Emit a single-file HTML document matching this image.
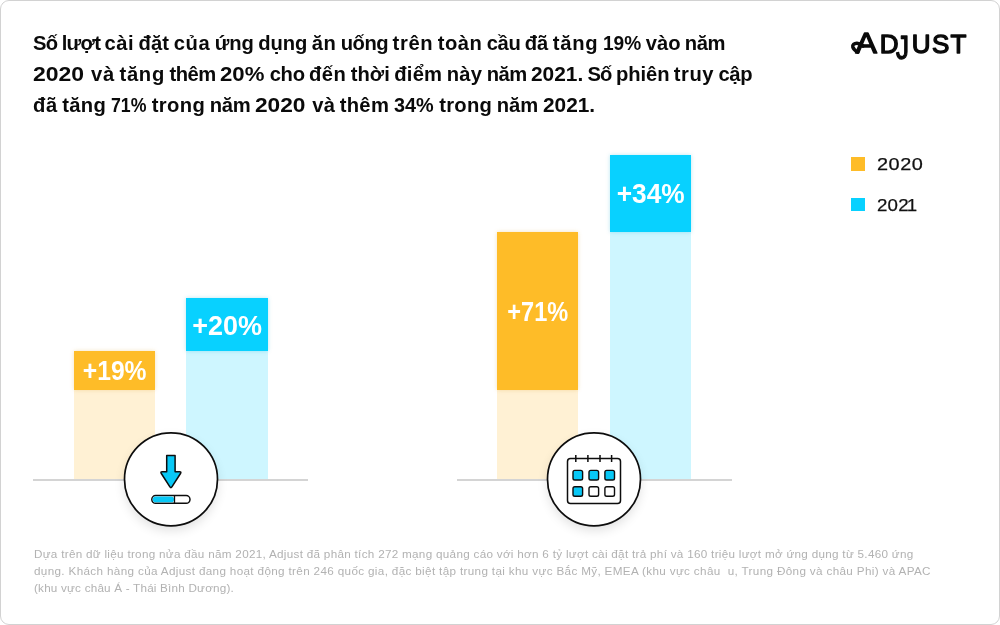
<!DOCTYPE html>
<html lang="vi">
<head>
<meta charset="utf-8">
<title>Adjust</title>
<style>
*{margin:0;padding:0;box-sizing:border-box}
html,body{width:1000px;height:625px;background:#fff;overflow:hidden}
body{font-family:"Liberation Sans",sans-serif;position:relative;color:#0a0a0a}
.frame{position:absolute;left:0;top:0;width:1000px;height:625px;border:1px solid #d2d2d2;border-radius:9px;background:#fff}
.title{position:absolute;left:33px;top:28.4px;font-size:20.2px;line-height:30.8px;font-weight:bold;color:#0a0a0a;white-space:nowrap}
.title span,.foot span{display:block}
.title i{font-style:normal}
.title span{word-spacing:-1.2px}
.n{display:inline-block;font-weight:bold;transform-origin:0 50%;letter-spacing:0}
.bar{position:absolute}
.so{background:#febc28;box-shadow:0 0 4px rgba(220,160,40,.3)}
.sb{background:#08d1ff;box-shadow:0 0 4px rgba(8,170,210,.28)}
.lo{background:#fff1d4}
.lb{background:#cef6ff}
.lbl{position:absolute;color:#fff;font-weight:bold;font-size:27.4px;line-height:30px;text-align:center;white-space:nowrap}
.axis{position:absolute;height:2px;background:#d4d4d4}
.icon{position:absolute;width:130px;height:130px;overflow:visible}
.legend{position:absolute;font-size:17px;line-height:20px;color:#111;letter-spacing:.45px;white-space:nowrap;transform:scaleX(1.17);transform-origin:0 0;-webkit-text-stroke:.25px #111}
.sw{position:absolute;width:13.6px;height:13.4px}
.foot{position:absolute;left:34px;top:546.4px;font-size:11.7px;line-height:16.65px;color:#b2b2b2;white-space:nowrap}
.f1{letter-spacing:.293px}.f2{letter-spacing:.342px}.f3{letter-spacing:.21px}
.logo{position:absolute;left:840px;top:20px;width:140px;height:50px;overflow:visible}
</style>
</head>
<body>
<div class="frame"></div>
<div class="title"><span class="t1"><i style="letter-spacing:-0.75px">Số</i> <i style="letter-spacing:-0.71px">lượt</i> <i style="letter-spacing:0.50px">cài</i> <i style="letter-spacing:0.10px">đặt</i> <i style="letter-spacing:0.60px">của</i> <i style="letter-spacing:-0.03px">ứng</i> <i style="letter-spacing:-0.08px">dụng</i> <i style="letter-spacing:0.51px">ăn</i> <i style="letter-spacing:-0.48px">uống</i> <i style="letter-spacing:0.66px">trên</i> <i style="letter-spacing:0.49px">toàn</i> <i style="letter-spacing:-0.40px">cầu</i> <i style="letter-spacing:0.01px">đã</i> <i style="letter-spacing:0.75px">tăng</i> <b class="n" style="width:38.2px;transform:scaleX(0.946);margin-left:0.4px">19%</b> <i style="letter-spacing:-0.07px">vào</i> <i style="letter-spacing:-0.47px">năm</i></span><span class="t2"><b class="n" style="width:53.6px;transform:scaleX(1.138)">2020</b> <i style="letter-spacing:0.75px">và</i> <i style="letter-spacing:0.75px">tăng</i> <i style="letter-spacing:-0.49px">thêm</i> <b class="n" style="width:45.1px;transform:scaleX(1.098)">20%</b> <i style="letter-spacing:-0.30px">cho</i> <i style="letter-spacing:0.43px">đến</i> <i style="letter-spacing:0.02px">thời</i> <i style="letter-spacing:0.24px">điểm</i> <i style="letter-spacing:0.26px">này</i> <i style="letter-spacing:-0.47px">năm</i> <b class="n" style="width:51.7px;transform:scaleX(1.034)">2021.</b> <i style="letter-spacing:-0.75px">Số</i> <i style="letter-spacing:-0.11px">phiên</i> <i style="letter-spacing:0.51px">truy</i> <i style="letter-spacing:-0.33px">cập</i></span><span class="t3"><i style="letter-spacing:0.61px">đã</i> <i style="letter-spacing:0.34px">tăng</i> <b class="n" style="width:36.6px;transform:scaleX(0.878)">71%</b> <i style="letter-spacing:0.40px">trong</i> <i style="letter-spacing:-0.18px">năm</i> <b class="n" style="width:52.8px;transform:scaleX(1.124)">2020</b> <i style="letter-spacing:0.26px">và</i> <i style="letter-spacing:0.34px">thêm</i> <b class="n" style="width:41.1px;transform:scaleX(0.982)">34%</b> <i style="letter-spacing:0.30px">trong</i> <i style="letter-spacing:0.03px">năm</i> <b class="n" style="width:50.5px;transform:scaleX(1.032)">2021.</b></span></div>

<!-- logo -->
<svg class="logo" viewBox="840 20 140 50">
<text x="855.6 879.8 896 911.8 932 950.6" y="53.2 53.2 58.6 53.2 53.2 53.2" font-family="Liberation Sans, sans-serif" font-size="26" fill="#0a0a0a" stroke="#0a0a0a" stroke-width="1.35" stroke-linejoin="round"><tspan font-size="28.6" textLength="21.4" lengthAdjust="spacingAndGlyphs">A</tspan>D<tspan font-size="34" textLength="13" lengthAdjust="spacingAndGlyphs">J</tspan>UST</text>
<path d="M863 46 C861 44.6 858.8 43.3 857 43.2 C854.2 43.1 852.2 45 852.8 47 C853.4 49 855.6 50.9 857.8 52.2" fill="none" stroke="#0a0a0a" stroke-width="3.5" stroke-linecap="round" stroke-linejoin="round"/>
</svg>

<!-- left chart -->
<div class="bar lo" style="left:73.8px;top:351.3px;width:81.3px;height:128px"></div>
<div class="bar so" style="left:73.8px;top:351.3px;width:81.3px;height:39px"></div>
<div class="lbl" style="left:73.8px;top:356.1px;width:81.3px;transform:scaleX(.9)">+19%</div>
<div class="bar lb" style="left:186.1px;top:297.9px;width:82.1px;height:181.4px"></div>
<div class="bar sb" style="left:186.1px;top:297.9px;width:82.1px;height:53.6px"></div>
<div class="lbl" style="left:186.1px;top:311.3px;width:82.1px;transform:scaleX(.985)">+20%</div>
<div class="axis" style="left:33px;top:479px;width:275.2px"></div>
<svg class="icon" style="left:106px;top:414px" viewBox="-65 -65 130 130">
<defs><filter id="sh" x="-30%" y="-30%" width="160%" height="170%"><feGaussianBlur stdDeviation="6"/></filter></defs>
<circle cx="0" cy="5" r="46" fill="#000" opacity=".13" filter="url(#sh)"/>
<circle cx="0" cy="0.3" r="46.5" fill="#fff" stroke="#0d0d0d" stroke-width="1.7"/>
<path d="M-4.3 -23.4H4.1V-7.3H8.6Q10.6 -7.3 9.5 -5.5L0.9 7.9Q-0.1 9.4 -1.1 7.9L-9.7 -5.5Q-10.8 -7.3 -8.8 -7.3H-4.3Z" fill="#08c8f6" stroke="#0d0d0d" stroke-width="1.5" stroke-linejoin="round"/>
<rect x="-19.2" y="16.6" width="38.2" height="7.7" rx="3.85" fill="#fff" stroke="#0d0d0d" stroke-width="1.5"/>
<rect x="-18.2" y="17.6" width="21.2" height="5.7" rx="2.85" fill="#08c8f6"/>
<path d="M3.5 16.8V24.1" stroke="#0d0d0d" stroke-width="1.3" fill="none"/>
</svg>

<!-- right chart -->
<div class="bar lo" style="left:496.8px;top:231.7px;width:81.6px;height:247.6px"></div>
<div class="bar so" style="left:496.8px;top:231.7px;width:81.6px;height:158.2px"></div>
<div class="lbl" style="left:496.8px;top:296.5px;width:81.6px;transform:scaleX(.86)">+71%</div>
<div class="bar lb" style="left:609.8px;top:154.9px;width:81.4px;height:324.4px"></div>
<div class="bar sb" style="left:609.8px;top:154.9px;width:81.4px;height:76.8px"></div>
<div class="lbl" style="left:609.8px;top:179px;width:81.4px;transform:scaleX(.96)">+34%</div>
<div class="axis" style="left:457px;top:479px;width:275.2px"></div>
<svg class="icon" style="left:529px;top:414px" viewBox="-65 -65 130 130">
<circle cx="0" cy="5" r="46" fill="#000" opacity=".13" filter="url(#sh)"/>
<circle cx="0" cy="0.3" r="46.5" fill="#fff" stroke="#0d0d0d" stroke-width="1.7"/>
<rect x="-26.5" y="-20.5" width="53" height="45" rx="3" fill="#fff" stroke="#0d0d0d" stroke-width="1.5"/>
<path d="M-18.2 -24V-17M-6.1 -24V-17M6 -24V-17M17.6 -24V-17" stroke="#0d0d0d" stroke-width="1.5" fill="none"/>
<g stroke="#0d0d0d" stroke-width="1.4">
<rect x="-21" y="-8.6" width="9.6" height="9.6" rx="1.8" fill="#08c8f6"/>
<rect x="-5" y="-8.6" width="9.6" height="9.6" rx="1.8" fill="#08c8f6"/>
<rect x="10.9" y="-8.6" width="9.6" height="9.6" rx="1.8" fill="#08c8f6"/>
<rect x="-21" y="7.7" width="9.6" height="9.6" rx="1.8" fill="#08c8f6"/>
<rect x="-5" y="7.7" width="9.6" height="9.6" rx="1.8" fill="#fff"/>
<rect x="10.9" y="7.7" width="9.6" height="9.6" rx="1.8" fill="#fff"/>
</g>
</svg>

<!-- legend -->
<div class="sw" style="left:851.4px;top:157.2px;background:#febc28"></div>
<div class="legend" style="left:877px;top:154.5px">2020</div>
<div class="sw" style="left:851.4px;top:198.1px;background:#08d1ff"></div>
<div class="legend" style="left:877px;top:195.5px;letter-spacing:.2px;transform:scaleX(1.1)">202<span style="margin-left:-2px">1</span></div>

<div class="foot"><span class="f1">Dựa trên dữ liệu trong nửa đầu năm 2021, Adjust đã phân tích 272 mạng quảng cáo với hơn 6 tỷ lượt cài đặt trả phí và 160 triệu lượt mở ứng dụng từ 5.460 ứng</span><span class="f2">dụng. Khách hàng của Adjust đang hoạt động trên 246 quốc gia, đặc biệt tập trung tại khu vực Bắc Mỹ, EMEA (khu vực châu &nbsp;u, Trung Đông và châu Phi) và APAC</span><span class="f3">(khu vực châu Á - Thái Bình Dương).</span></div>
</body>
</html>
